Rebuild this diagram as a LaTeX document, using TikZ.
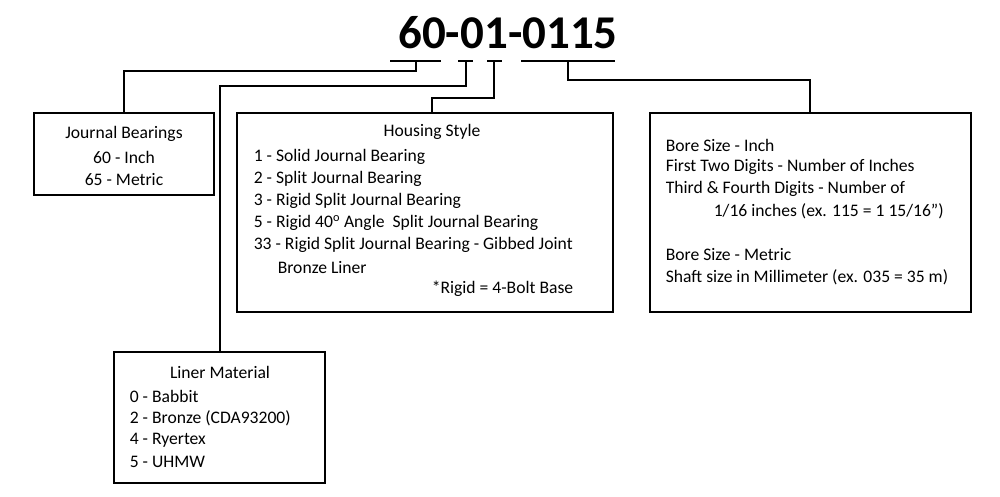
\documentclass[tikz,border=0pt]{standalone}
\usepackage{fontspec}
\setmainfont{Carlito}
\begin{document}
\begin{tikzpicture}[x=1pt,y=-1pt,line width=1.6pt,
  bx/.style={draw,line width=1.4pt},
  tl/.style={anchor=west,inner sep=0pt,font=\fontsize{17.6}{20}\selectfont},
  tc/.style={anchor=center,inner sep=0pt,font=\fontsize{17.6}{20}\selectfont}]
\useasboundingbox (0,0) rectangle (1000,496);
\node[inner sep=0pt,font=\fontsize{47}{50}\bfseries\selectfont] (title) at (508,33) {60-01-0115};
% underlines
\draw (390,61) -- (441,61); \draw (458,61) -- (473,61);
\draw (487,61) -- (502,61); \draw (521,61) -- (615,61);
% boxes
\draw[bx] (34,113) rectangle (214,195);
\draw[bx] (237,113) rectangle (613,312);
\draw[bx] (650,113) rectangle (971,312);
\draw[bx] (114,352) rectangle (325,483);
\coordinate (u1) at (416,61); \coordinate (u2) at (466,61);
\coordinate (u3) at (494,61); \coordinate (u4) at (568,61);
\draw (u1) |- (124,71) -- (124,113);
\draw (u2) |- (220,86) -- (220,352);
\draw (u3) |- (432,98) -- (432,113);
\draw (u4) |- (810,80) -- (810,113);
% journal
\node[tc] (j1) at (124,134) {Journal Bearings};
\node[tc] (j2) at (124,157) {60 - Inch};
\node[tc] (j3) at (124,180) {65 - Metric};
% housing
\node[tc] (h0) at (432,132) {Housing Style};
\node[tl] (h1) at (253,157) {1 - Solid Journal Bearing};
\node[tl] (h2) at (253,179) {2 - Split Journal Bearing};
\node[tl] (h3) at (253,201) {3 - Rigid Split Journal Bearing};
\node[tl] (h4) at (253,223) {5 - Rigid 40\textsuperscript{o} Angle\ \ Split Journal Bearing};
\node[tl] (h5) at (253,245) {33 - Rigid Split Journal Bearing - Gibbed Joint};
\node[tl] (h6) at (277,267) {Bronze Liner};
\node[tl] (h7) at (431,289) {*Rigid = 4-Bolt Base};
% bore
\node[tl] (b1) at (665,145) {Bore Size - Inch};
\node[tl] (b2) at (665,167) {First Two Digits - Number of Inches};
\node[tl] (b3) at (665,189) {Third \& Fourth Digits - Number of};
\node[tl] (b4) at (713,211) {1/16 inches (ex. 115 = 1 15/16")};
\node[tl] (b5) at (665,255) {Bore Size - Metric};
\node[tl] (b6) at (665,277) {Shaft size in Millimeter (ex. 035 = 35 m)};
% liner
\node[tc] (l0) at (220,372) {Liner Material};
\node[tl] (l1) at (129,396) {0 - Babbit};
\node[tl] (l2) at (129,418) {2 - Bronze (CDA93200)};
\node[tl] (l3) at (129,440) {4 - Ryertex};
\node[tl] (l4) at (129,462) {5 - UHMW};
\end{tikzpicture}
\end{document}
